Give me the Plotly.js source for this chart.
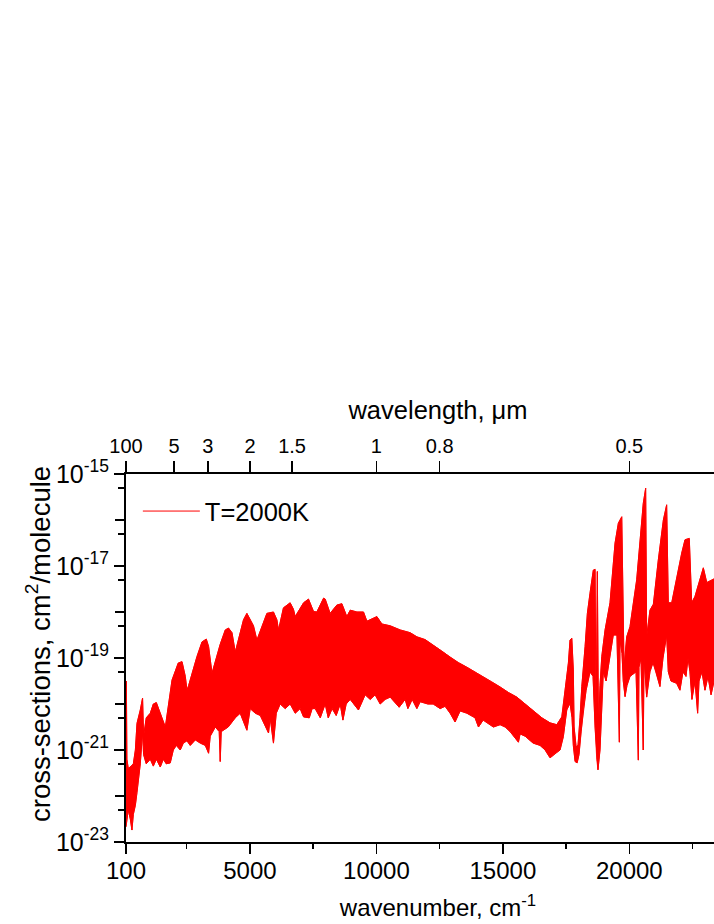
<!DOCTYPE html>
<html>
<head>
<meta charset="utf-8">
<script src="https://cdn.plot.ly/plotly-3.0.1.min.js"></script>
<style>
  html, body { margin: 0; padding: 0; background: #fff; overflow: hidden; }
  #plotDiv { width: 750px; height: 924px; }
</style>
</head>
<body>
<div id="plotDiv"></div>
<script>
// spectrum: upper and lower edge of the dense red band
// wavenumbers in cm-1, values as log10 of the cross-section
var upperX = [100, 115, 135, 190, 310, 390, 470, 535, 665, 755, 795, 900, 1060, 1180, 1300, 1455, 1575, 1655,
    1920, 2165, 2315, 2445, 2510, 2575, 2905, 3105, 3275, 3365, 3500, 3825, 4025, 4155, 4290, 4420, 4745, 4880,
    5140, 5275, 5670, 5930, 6065, 6130, 6325, 6590, 6720, 6790, 7120, 7315, 7515, 7645, 7910, 7975, 8170, 8435,
    8635, 8830, 8965, 9230, 9490, 9625, 10020, 10215, 10545, 10940, 11335, 11600, 11925, 12255, 12585, 12915,
    13240, 13575, 13900, 14230, 14560, 14890, 15220, 15550, 15880, 16205, 16540, 16865, 17130, 17330, 17460,
    17590, 17655, 17725, 17785, 17815, 17895, 17970, 18050, 18120, 18250, 18340, 18445, 18575, 18645, 18685,
    18735, 18780, 18840, 18910, 19040, 19235, 19435, 19565, 19700, 19790, 19895, 20025, 20290, 20490, 20550,
    20645, 20685, 20815, 20950, 21145, 21345, 21475, 21540, 21675, 21870, 22070, 22200, 22370, 22465, 22595,
    22925, 23060, 23350];
var upperLog = [-21.5, -19.5, -21.2, -21.4, -21.35, -21.3, -21.0, -20.42, -20.13, -19.87, -20.7, -20.3, -20.2, -20.0,
    -19.97, -20.2, -20.4, -20.5, -19.48, -19.11, -19.08, -19.4, -19.7, -19.6, -18.97, -18.65, -18.59, -18.75,
    -19.33, -18.7, -18.39, -18.35, -18.45, -18.87, -18.17, -18.03, -18.3, -18.61, -18.03, -18.0, -18.17, -18.39,
    -17.91, -17.8, -17.94, -18.1, -17.8, -17.72, -17.99, -18.0, -17.7, -17.72, -18.03, -17.85, -17.82, -18.1,
    -17.96, -18.0, -18.0, -18.2, -18.1, -18.26, -18.3, -18.39, -18.45, -18.54, -18.6, -18.72, -18.85, -18.98,
    -19.1, -19.2, -19.3, -19.41, -19.52, -19.63, -19.75, -19.85, -20.0, -20.13, -20.3, -20.41, -20.45, -20.28,
    -19.7, -19.11, -18.61, -18.57, -19.26, -20.5, -20.93, -20.9, -20.3, -19.62, -18.75, -18.03, -17.59, -17.09,
    -17.07, -20.5, -17.12, -20.6, -19.6, -18.97, -18.39, -17.8, -16.5, -16.07, -15.93, -19.2, -18.54, -18.32,
    -17.3, -16.0, -15.64, -15.31, -18.54, -17.96, -17.83, -16.87, -16.0, -15.67, -17.8, -17.8, -17.23, -16.72,
    -16.43, -16.4, -17.8, -17.66, -17.04, -17.36, -17.28];

var lowerX = [100, 190, 270, 335, 390, 470, 535, 665, 755, 795, 900, 1060, 1180, 1300, 1455, 1575, 1690, 1850,
    1970, 2090, 2245, 2365, 2510, 2640, 2840, 3035, 3235, 3365, 3430, 3630, 3785, 3825, 3865, 4140, 4420, 4615,
    4880, 5010, 5210, 5410, 5735, 5800, 5930, 6040, 6195, 6395, 6590, 6790, 6985, 7120, 7345, 7460, 7580, 7780,
    7975, 8095, 8250, 8410, 8570, 8675, 8805, 8965, 9290, 9555, 9755, 9950, 10150, 10345, 10545, 10900, 11135,
    11245, 11415, 11600, 11730, 12035, 12245, 12520, 12715, 12915, 13110, 13310, 13575, 13900, 14035, 14220,
    14625, 14890, 15090, 15285, 15615, 15680, 15880, 16195, 16470, 16670, 16865, 17130, 17260, 17390, 17525,
    17655, 17735, 17785, 17855, 17935, 18010, 18090, 18180, 18290, 18445, 18565, 18645, 18710, 18760, 18840,
    18910, 18970, 19080, 19235, 19365, 19510, 19605, 19630, 19710, 19760, 19830, 19905, 20025, 20265, 20355,
    20380, 20460, 20550, 20580, 20685, 20815, 20935, 21055, 21210, 21330, 21475, 21540, 21645, 21870, 22000,
    22120, 22240, 22320, 22395, 22475, 22595, 22700, 22755, 22870, 22990, 23110, 23230, 23350];
var lowerLog = [-22.67, -22.3, -22.5, -22.74, -22.4, -22.2, -21.93, -21.3, -20.6, -21.1, -21.3, -21.2, -21.35, -21.2,
    -21.37, -21.2, -21.3, -21.28, -21.0, -20.9, -21.0, -20.85, -20.8, -20.9, -20.78, -20.85, -20.9, -21.07, -20.7,
    -20.5, -20.6, -21.25, -20.6, -20.5, -20.3, -20.2, -20.57, -20.1, -20.2, -20.25, -20.63, -20.3, -20.85, -20.2,
    -20.0, -20.1, -20.0, -20.2, -20.1, -20.28, -20.3, -20.1, -20.1, -20.3, -20.0, -20.3, -20.1, -20.25, -20.0,
    -20.35, -20.0, -19.9, -20.13, -19.8, -19.9, -19.8, -20.0, -19.9, -19.85, -20.07, -19.9, -20.1, -19.9, -20.1,
    -19.95, -20.0, -20.0, -20.1, -20.05, -20.2, -20.39, -20.15, -20.2, -20.3, -20.5, -20.35, -20.5, -20.45, -20.5,
    -20.6, -20.83, -20.65, -20.7, -20.85, -20.9, -21.0, -21.17, -21.05, -21.0, -20.71, -20.13, -19.98, -20.3,
    -20.9, -21.25, -21.28, -21.1, -20.6, -20.13, -19.7, -19.3, -19.4, -20.5, -21.2, -21.43, -21.0, -20.0, -19.3,
    -19.5, -19.0, -18.5, -18.5, -20.83, -18.6, -18.9, -19.5, -19.84, -19.6, -19.4, -19.3, -21.22, -19.2, -19.0,
    -21.0, -19.0, -19.85, -19.3, -19.1, -19.3, -19.62, -19.0, -18.5, -19.3, -19.5, -19.55, -19.7, -19.3, -19.4,
    -19.0, -19.3, -19.9, -19.5, -20.2, -19.5, -19.3, -19.7, -19.4, -19.8, -19.5];

var seriesName = 'T=2000K';

// axis ticks
var bottomTicks = [100, 5000, 10000, 15000, 20000];
var bottomMinor = [2500, 7500, 12500, 17500, 22500];
var wavelengthTicks = [100, 5, 3, 2, 1.5, 1, 0.8, 0.5];   // micrometres
var yLabelled = [-23, -21, -19, -17, -15];
var yDecades = [-23, -22, -21, -20, -19, -18, -17, -16, -15];
// the figure runs on past the right edge of the picture, so the axes do too
var xRange = [100, 24770];

var fontFamily = '"Liberation Sans", Arial, sans-serif';

function pow10(v) {
    return Math.pow(10, v);
}

function initializePlotDiv() {
    var plotDiv = document.getElementById('plotDiv');

    var bandX = upperX.concat(lowerX.slice().reverse());
    var bandY = upperLog.concat(lowerLog.slice().reverse()).map(pow10);

    var trace_band = {
        x: bandX,
        y: bandY,
        mode: 'lines',
        fill: 'toself',
        fillcolor: 'rgb(255,0,0)',
        line: {width: 0.8, color: 'rgb(255,0,0)'},
        showlegend: false,
        hoverinfo: 'skip'
    };
    var trace_upper = {
        x: upperX,
        y: upperLog.map(pow10),
        mode: 'lines',
        line: {width: 1, color: 'rgb(255,0,0)'},
        name: seriesName
    };
    var trace_lower = {
        x: lowerX,
        y: lowerLog.map(pow10),
        mode: 'lines',
        line: {width: 1, color: 'rgb(255,0,0)'},
        showlegend: false
    };
    // dummy traces so the wavelength axis and the decade tick axis get drawn
    var trace_top = {
        x: xRange,
        y: [1e-20, 1e-20],
        xaxis: 'x2',
        mode: 'lines',
        opacity: 0,
        showlegend: false,
        hoverinfo: 'skip'
    };
    var trace_decades = {
        x: xRange,
        y: [1e-20, 1e-20],
        yaxis: 'y2',
        mode: 'lines',
        opacity: 0,
        showlegend: false,
        hoverinfo: 'skip'
    };

    var yMinor = [];
    yDecades.forEach(function (d) {
        if (d < -15) yMinor.push(5 * pow10(d));
    });

    var tickStyle = {
        showline: true,
        linewidth: 2,
        linecolor: '#000',
        zeroline: false,
        showgrid: false,
        ticks: 'outside',
        tickwidth: 1.5,
        tickcolor: '#000',
        tickmode: 'array'
    };

    var layoutOpt = {
        width: 750,
        height: 924,
        paper_bgcolor: '#ffffff',
        plot_bgcolor: '#ffffff',
        font: {family: fontFamily, color: '#000000'},
        margin: {l: 126, r: 0, t: 474, b: 82, pad: 0},
        showlegend: true,
        legend: {
            x: 0.019,
            y: 0.962,
            xanchor: 'left',
            yanchor: 'top',
            bgcolor: 'rgba(0,0,0,0)',
            itemwidth: 57,
            font: {size: 25.5, family: fontFamily}
        },
        xaxis: Object.assign({}, tickStyle, {
            type: 'linear',
            range: xRange,
            ticklen: 10,
            tickvals: bottomTicks,
            ticktext: bottomTicks.map(String),
            tickfont: {size: 24},
            ticklabelstandoff: -4,
            minor: {tickmode: 'array', tickvals: bottomMinor, ticks: 'outside', ticklen: 5, tickwidth: 1.5, tickcolor: '#000', showgrid: false},
            title: {text: 'wavenumber, cm<sup>-1</sup>', font: {size: 24}, standoff: 16}
        }),
        xaxis2: Object.assign({}, tickStyle, {
            type: 'linear',
            overlaying: 'x',
            side: 'top',
            anchor: 'y',
            range: xRange,
            ticklen: 11,
            tickvals: wavelengthTicks.map(function (w) { return 1e4 / w; }),
            ticktext: wavelengthTicks.map(String),
            tickfont: {size: 20},
            title: {text: 'wavelength, \u03bcm', font: {size: 25.5}, standoff: 8}
        }),
        yaxis: Object.assign({}, tickStyle, {
            type: 'log',
            range: [-23, -15],
            ticklen: 10,
            tickvals: yLabelled.map(pow10),
            ticktext: yLabelled.map(function (d) { return '10<sup>' + d + '</sup>'; }),
            tickfont: {size: 25},
            minor: {tickmode: 'array', tickvals: yMinor, ticks: 'outside', ticklen: 6, tickwidth: 1.5, tickcolor: '#000', showgrid: false}
        }),
        // unlabelled decade ticks, same length as the labelled ones
        yaxis2: Object.assign({}, tickStyle, {
            type: 'log',
            overlaying: 'y',
            anchor: 'x',
            side: 'left',
            range: [-23, -15],
            showline: false,
            ticklen: 10,
            tickvals: yDecades.map(pow10),
            showticklabels: false
        }),
        annotations: [{
            text: 'cross-sections, cm<sup>2</sup>/molecule',
            xref: 'paper',
            yref: 'paper',
            x: 0,
            y: 0.5,
            xshift: -88,
            yshift: 14,
            xanchor: 'center',
            yanchor: 'middle',
            textangle: -90,
            showarrow: false,
            font: {size: 27.5, family: fontFamily}
        }]
    };

    Plotly.newPlot(plotDiv, [trace_band, trace_upper, trace_lower, trace_top, trace_decades], layoutOpt, {staticPlot: true});
}

window.onload = function () {
    initializePlotDiv();
};
</script>
</body>
</html>
